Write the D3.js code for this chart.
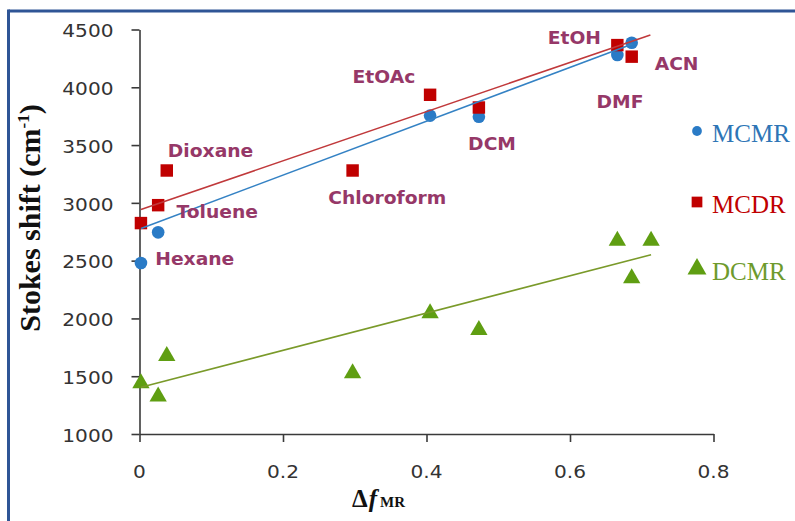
<!DOCTYPE html>
<html>
<head>
<meta charset="utf-8">
<script src="https://cdn.jsdelivr.net/npm/d3@7"></script>
<style>
  html, body { margin: 0; padding: 0; background: #fff; }
  svg { display: block; }
</style>
</head>
<body>
<svg id="chart" width="795" height="521"></svg>
<script>
// Solvents and their orientation polarity Δf
const solvents = ["Hexane", "Toluene", "Dioxane", "Chloroform", "EtOAc", "DCM", "EtOH", "DMF", "ACN"];
const deltaF   = [0.002, 0.026, 0.038, 0.297, 0.405, 0.473, 0.666, 0.686, 0.713];

// Stokes shift (cm-1) for each dye; null where no point is plotted
const mcmr = [2480, 2745, null, null, 3755, 3745, 4280, 4385, null];
const mcdr = [2825, 2980, 3280, 3280, 3935, 3825, 4365, 4265, null];
const dcmr = [1440, 1325, 1675, 1525, 2045, 1900, 2672, 2347, 2672];

// Linear trend lines: intercept, slope and x span
const trendIntercept = [2774, 2938, 1402];
const trendSlope     = [2330, 2128, 1611];
const trendXmin      = [0.002, 0.002, 0.002];
const trendXmax      = [0.687, 0.712, 0.713];

const seriesNames = ["MCMR", "MCDR", "DCMR"];
const xTicks = [0, 0.2, 0.4, 0.6, 0.8];
const yTicks = [1000, 1500, 2000, 2500, 3000, 3500, 4000, 4500];

// Solvent label anchors (data space: Δf, Stokes shift)
const labelText = ["Dioxane", "Toluene", "Hexane", "Chloroform", "EtOAc", "DCM", "EtOH", "ACN", "DMF"];
const labelX    = [0.0395, 0.0515, 0.022, 0.263, 0.297, 0.458, 0.569, 0.718, 0.637];
const labelY    = [3400, 2867, 2466, 2989, 4037, 3457, 4373, 4150, 3817];

const markerColor = ["#2a7bc6", "#c00000", "#5f9e12"];
const lineColor   = ["#3482c4", "#c0393b", "#7a9a2a"];
const legendColor = ["#2e75b6", "#c00000", "#6e9a2c"];
const labelColor  = "#963868";

const svg = d3.select("#chart");

const x = d3.scaleLinear().domain([0, 0.8]).range([139.5, 713.5]);
const y = d3.scaleLinear().domain([1000, 4500]).range([434, 29.5]);

// Frame lines
svg.append("line").attr("x1", 8.5).attr("x2", 795).attr("y1", 11).attr("y2", 11)
  .attr("stroke", "#2f5596").attr("stroke-width", 3);
svg.append("line").attr("x1", 8.5).attr("x2", 8.5).attr("y1", 9.5).attr("y2", 521)
  .attr("stroke", "#2f5596").attr("stroke-width", 3);

// Axes
const axisColor = "#3a3a3a";
const gx = svg.append("g").attr("transform", `translate(0,${y(1000)})`)
  .call(d3.axisBottom(x).tickValues(xTicks).tickSize(8).tickSizeOuter(0).tickFormat(""));
const gy = svg.append("g").attr("transform", `translate(${x(0)},0)`)
  .call(d3.axisLeft(y).tickValues(yTicks).tickSize(8).tickSizeOuter(0).tickFormat(""));
[gx, gy].forEach(g => {
  g.selectAll("path, line").attr("stroke", axisColor).attr("stroke-width", 1.6);
});

// Text helper with horizontal scaling about the anchor point
function label(g, px, py, str, opt) {
  const t = g.append("text")
    .attr("transform", `translate(${px},${py}) scale(${opt.sx || 1},1)`)
    .attr("font-family", opt.family)
    .attr("font-size", opt.size)
    .attr("font-weight", opt.weight || "normal")
    .attr("fill", opt.fill)
    .attr("text-anchor", opt.anchor || "start")
    .text(str);
  return t;
}

const tickFont = { family: "'DejaVu Sans', sans-serif", size: 17.5, fill: "#333", sx: 1.15 };
yTicks.forEach(v => label(svg, 113.5, y(v) + 7.8, v, Object.assign({ anchor: "end" }, tickFont)));
xTicks.forEach(v => label(svg, x(v), 478, v === 0 ? "0" : d3.format(".1f")(v), Object.assign({ anchor: "middle" }, tickFont)));

// Axis titles
const yTitle = svg.append("text")
  .attr("transform", `translate(40,${218}) rotate(-90)`)
  .attr("text-anchor", "middle")
  .attr("font-family", "'Liberation Serif', serif")
  .attr("font-weight", "bold")
  .attr("font-size", 30)
  .attr("fill", "#111");
yTitle.append("tspan").text("Stokes shift (cm");
yTitle.append("tspan").attr("font-size", 17).attr("dy", -11).text("-1");
yTitle.append("tspan").attr("dy", 11).text(")");

const xTitle = svg.append("text")
  .attr("x", 352).attr("y", 507)
  .attr("font-family", "'Liberation Serif', serif")
  .attr("font-weight", "bold")
  .attr("font-size", 25)
  .attr("fill", "#111");
xTitle.append("tspan").text("Δ");
xTitle.append("tspan").attr("font-style", "italic").attr("dx", 1).text("f");
xTitle.append("tspan").attr("font-size", 15).attr("dx", 3).text("MR");

// Markers
const seriesValues = [mcmr, mcdr, dcmr];
const symbols = [d3.symbolCircle, d3.symbolSquare, d3.symbolTriangle];
const symbolSize = [125, 155, 130];

const pts = seriesValues.map(vals => solvents.map((s, i) => ({ s, xv: deltaF[i], yv: vals[i] })).filter(d => d.yv != null));

const plot = svg.append("g");
[0, 1, 2].forEach(k => {
  plot.selectAll(null).data(pts[k]).enter().append("path")
    .attr("d", d3.symbol().type(symbols[k]).size(symbolSize[k]))
    .attr("transform", d => `translate(${x(d.xv)},${y(d.yv)})`)
    .attr("fill", markerColor[k]);
});

// Trend lines
const line = d3.line().x(d => x(d[0])).y(d => y(d[1]));
[0, 1, 2].forEach(k => {
  const xs = [trendXmin[k], trendXmax[k]];
  plot.append("path")
    .attr("d", line(xs.map(v => [v, trendIntercept[k] + trendSlope[k] * v])))
    .attr("fill", "none")
    .attr("stroke", lineColor[k])
    .attr("stroke-width", 1.6);
});

// Solvent labels
const labFont = { family: "'DejaVu Sans', sans-serif", size: 17, weight: "bold", fill: labelColor, sx: 1.1 };
labelText.forEach((t, i) => label(svg, x(labelX[i]), y(labelY[i]), t, labFont));

// Legend
const legendY = [131, 202, 269];
const legendSym = [75, 115, 155];
seriesNames.forEach((n, k) => {
  svg.append("path")
    .attr("d", d3.symbol().type(symbols[k]).size(legendSym[k]))
    .attr("transform", `translate(697,${legendY[k]})`)
    .attr("fill", markerColor[k]);
  label(svg, 712, legendY[k] + 10.5, n, { family: "'Liberation Serif', serif", size: 25, fill: legendColor[k] });
});
</script>
</body>
</html>
